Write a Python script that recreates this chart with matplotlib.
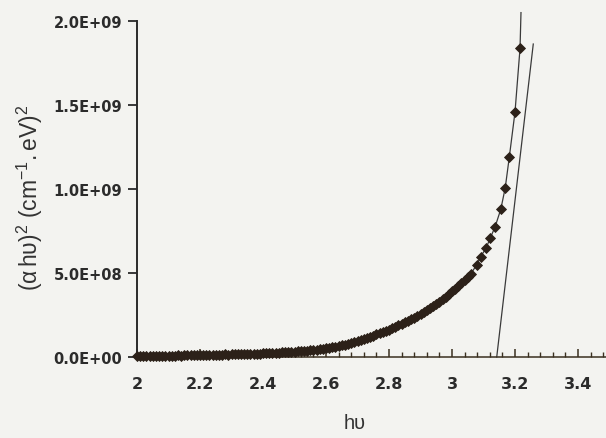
import matplotlib
matplotlib.use("Agg")
import matplotlib.pyplot as plt
from matplotlib.ticker import FixedLocator, FixedFormatter

plt.rcParams["mathtext.fontset"] = "custom"
plt.rcParams["mathtext.rm"] = "Liberation Sans"
plt.rcParams["mathtext.it"] = "Liberation Sans:italic"
plt.rcParams["mathtext.bf"] = "Liberation Sans:bold"

# Photon energy (eV) and (alpha*h*nu)^2 (x1e9)
hv = [2.00, 2.01, 2.02, 2.03, 2.04, 2.05, 2.06, 2.07, 2.08, 2.09,
      2.10, 2.11, 2.12, 2.13, 2.14, 2.15, 2.16, 2.17, 2.18, 2.19,
      2.20, 2.21, 2.22, 2.23, 2.24, 2.25, 2.26, 2.27, 2.28, 2.29,
      2.30, 2.31, 2.32, 2.33, 2.34, 2.35, 2.36, 2.37, 2.38, 2.39,
      2.40, 2.41, 2.42, 2.43, 2.44, 2.45, 2.46, 2.47, 2.48, 2.49,
      2.50, 2.51, 2.52, 2.53, 2.54, 2.55, 2.56, 2.57, 2.58, 2.59,
      2.60, 2.61, 2.62, 2.63, 2.64, 2.65, 2.66, 2.67, 2.68, 2.69,
      2.70, 2.71, 2.72, 2.73, 2.74, 2.75, 2.76, 2.77, 2.78, 2.79,
      2.80, 2.81, 2.82, 2.83, 2.84, 2.85, 2.86, 2.87, 2.88, 2.89,
      2.90, 2.91, 2.92, 2.93, 2.94, 2.95, 2.96, 2.97, 2.98, 2.99,
      3.00, 3.01, 3.02, 3.03, 3.04, 3.05, 3.06,
      3.078, 3.091, 3.108, 3.121, 3.137, 3.155, 3.169, 3.182, 3.200, 3.216]
ahv2 = [0.004, 0.005, 0.004, 0.005, 0.006, 0.005, 0.006, 0.007, 0.006, 0.007,
        0.007, 0.008, 0.008, 0.009, 0.008, 0.009, 0.010, 0.009, 0.011, 0.010,
        0.011, 0.012, 0.011, 0.012, 0.013, 0.013, 0.014, 0.013, 0.015, 0.014,
        0.015, 0.016, 0.016, 0.017, 0.017, 0.018, 0.019, 0.018, 0.020, 0.020,
        0.021, 0.022, 0.023, 0.023, 0.025, 0.025, 0.027, 0.028, 0.029, 0.031,
        0.032, 0.033, 0.035, 0.036, 0.038, 0.040, 0.042, 0.044, 0.047, 0.049,
        0.052, 0.055, 0.058, 0.062, 0.066, 0.070, 0.074, 0.079, 0.084, 0.089,
        0.095, 0.101, 0.107, 0.114, 0.120, 0.127, 0.134, 0.141, 0.148, 0.155,
        0.163, 0.171, 0.180, 0.188, 0.197, 0.206, 0.215, 0.225, 0.235, 0.245,
        0.256, 0.267, 0.278, 0.290, 0.302, 0.315, 0.329, 0.344, 0.359, 0.374,
        0.390, 0.406, 0.423, 0.440, 0.457, 0.475, 0.495,
        0.548, 0.598, 0.647, 0.706, 0.776, 0.880, 1.007, 1.191, 1.458, 1.838]
scale = 1e9

# extension of the trend line above the last point
trend_extra_x = [3.219]
trend_extra_y = [2.05]

# linear fit (tangent) line end points
fit_x = [3.142, 3.258]
fit_y = [0.0, 1.863]

xticks = [2.0, 2.2, 2.4, 2.6, 2.8, 3.0, 3.2, 3.4]
xticklabels = ["2", "2.2", "2.4", "2.6", "2.8", "3", "3.2", "3.4"]
xminor = [2.04, 2.08, 2.12, 2.16, 2.24, 2.28, 2.32, 2.36, 2.44, 2.48, 2.52, 2.56,
          2.64, 2.68, 2.72, 2.76, 2.84, 2.88, 2.92, 2.96, 3.04, 3.08, 3.12, 3.16,
          3.24, 3.28, 3.32, 3.36, 3.44, 3.48]
yticks = [0.0, 0.5e9, 1.0e9, 1.5e9, 2.0e9]

W, H = 606, 439
bg = "#f3f3f0"
fig = plt.figure(figsize=(W / 100, H / 100), dpi=100, facecolor=bg)
ax = fig.add_axes([137 / W, (H - 358) / H, 472.5 / W, (358 - 22) / H])
ax.set_facecolor(bg)

ys = [v * scale for v in ahv2]
line_x = hv + trend_extra_x
line_y = ys + [v * scale for v in trend_extra_y]
ax.plot(line_x, line_y, color="#3a3a3a", lw=0.9, clip_on=False, zorder=2)
ax.plot(hv, ys, ls="none", marker="D", ms=5.4, mfc="#2c2119", mec="#2c2119",
        mew=0.6, clip_on=False, zorder=3)
ax.plot(fit_x, [v * scale for v in fit_y], color="#3a3a3a", lw=0.9,
        clip_on=False, zorder=2)

ax.set_xlim(2.0, 3.5)
ax.set_ylim(0, 2.0e9)

for s in ["top", "right"]:
    ax.spines[s].set_visible(False)
ax.spines["left"].set_linewidth(1.4)
ax.spines["left"].set_color("#2a2a2a")
ax.spines["bottom"].set_linewidth(1.1)
ax.spines["bottom"].set_color("#3a3020")

ax.xaxis.set_major_locator(FixedLocator(xticks))
ax.xaxis.set_major_formatter(FixedFormatter(xticklabels))
ax.xaxis.set_minor_locator(FixedLocator(xminor))
ax.yaxis.set_major_locator(FixedLocator(yticks))
ax.yaxis.set_major_formatter(FixedFormatter([f"{v:.1E}" for v in yticks]))

ax.tick_params(axis="x", which="major", direction="in", length=5.5, width=1.1,
               color="#3a3020", pad=14, labelsize=11.5, labelcolor="#2b2b2b")
ax.tick_params(axis="x", which="minor", direction="in", length=3.5, width=1.0,
               color="#3a3020")
ax.tick_params(axis="y", which="major", direction="out", length=6.5, width=1.3,
               color="#2a2a2a", pad=4, labelsize=10.5, labelcolor="#2b2b2b")
for lab in ax.get_xticklabels() + ax.get_yticklabels():
    lab.set_fontweight("bold")
    lab.set_fontfamily("DejaVu Sans")

fig.text(30 / W, 1 - 198 / H,
         r"$\mathrm{(\alpha\,h\upsilon)^2\ (cm^{-1}.eV)^2}$",
         rotation=90, ha="center", va="center", fontsize=16.5, color="#333333")
fig.text(355 / W, 1 - 424 / H, "hυ", ha="center", va="center", fontsize=14.5,
         color="#333333", family="Liberation Sans")

fig.savefig("out.png", dpi=100, facecolor=bg)
